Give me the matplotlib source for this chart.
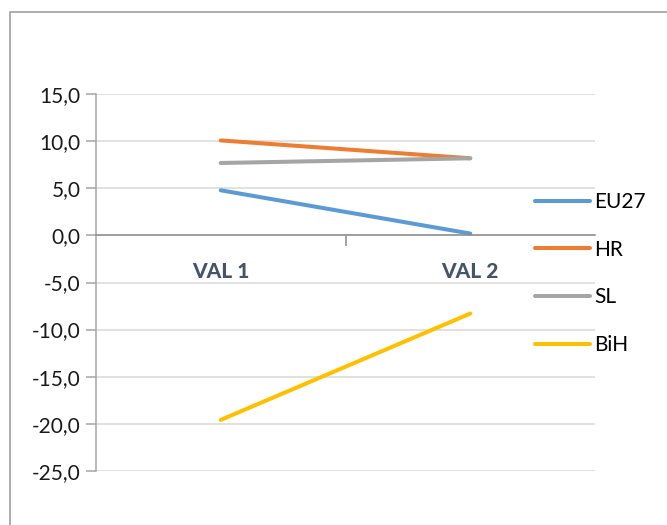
import matplotlib
matplotlib.use("Agg")
import matplotlib.pyplot as plt
from matplotlib.patches import Rectangle
from matplotlib.ticker import FuncFormatter, FixedLocator

categories = ["VAL 1", "VAL 2"]
series_names = ["EU27", "HR", "SL", "BiH"]
eu27 = [4.8, 0.2]
hr = [10.1, 8.2]
sl = [7.7, 8.2]
bih = [-19.6, -8.3]
colors = ["#5B9BD5", "#ED7D31", "#A5A5A5", "#FFC000"]

plt.rcParams['font.family'] = ['Lato', 'DejaVu Sans']

fig = plt.figure(figsize=(6.67, 5.25), dpi=100)
# outer chart frame (right/bottom edges fall outside the image)
fig.patches.append(Rectangle((10 / 667, -0.1), 1.2, 1 - 12 / 525 + 0.1,
                             transform=fig.transFigure, fill=False,
                             edgecolor="#A0A0A0", linewidth=1.2))

ax = fig.add_axes([96 / 667, 1 - 470.7 / 525, (595 - 96) / 667, (470.7 - 94.3) / 525])

x = range(len(categories))
for name, vals, c in zip(series_names, [eu27, hr, sl, bih], colors):
    ax.plot(x, vals, color=c, linewidth=2.9, solid_capstyle='round', label=name)

ax.set_xlim(-0.5, 1.5)
ax.set_ylim(-25, 15)
ax.set_yticks(range(-25, 16, 5))
ax.yaxis.set_major_formatter(FuncFormatter(lambda v, p: f"{v:.1f}".replace(".", ",")))
ax.grid(axis='y', color="#D9D9D9", linewidth=1.1)
ax.set_axisbelow(True)

for s in ["top", "right"]:
    ax.spines[s].set_visible(False)
ax.spines["left"].set_color("#A6A6A6")
ax.spines["left"].set_linewidth(1.1)
ax.spines["bottom"].set_position(("data", 0))
ax.spines["bottom"].set_color("#8C8C8C")
ax.spines["bottom"].set_linewidth(1.1)

ax.tick_params(axis='y', length=7, width=1.1, color="#A6A6A6", labelsize=15,
               labelcolor="#1A1A1A", pad=4)
ax.set_xticks(list(x))
ax.set_xticklabels(categories, fontsize=15, fontweight='black', color="#44546A")
ax.tick_params(axis='x', which='major', length=0, pad=19)
ax.xaxis.set_minor_locator(FixedLocator([0.5]))
ax.tick_params(axis='x', which='minor', length=8, width=1.1, color="#8C8C8C", direction='out')

leg = fig.legend(loc='center left', bbox_to_anchor=(535 / 667, 1 - 273.5 / 525),
                 frameon=False, fontsize=15, handlelength=2.65, handletextpad=0.2,
                 labelspacing=1.33, borderpad=0, borderaxespad=0)
for line in leg.get_lines():
    line.set_linewidth(2.9)

fig.savefig("out.png", dpi=100)
